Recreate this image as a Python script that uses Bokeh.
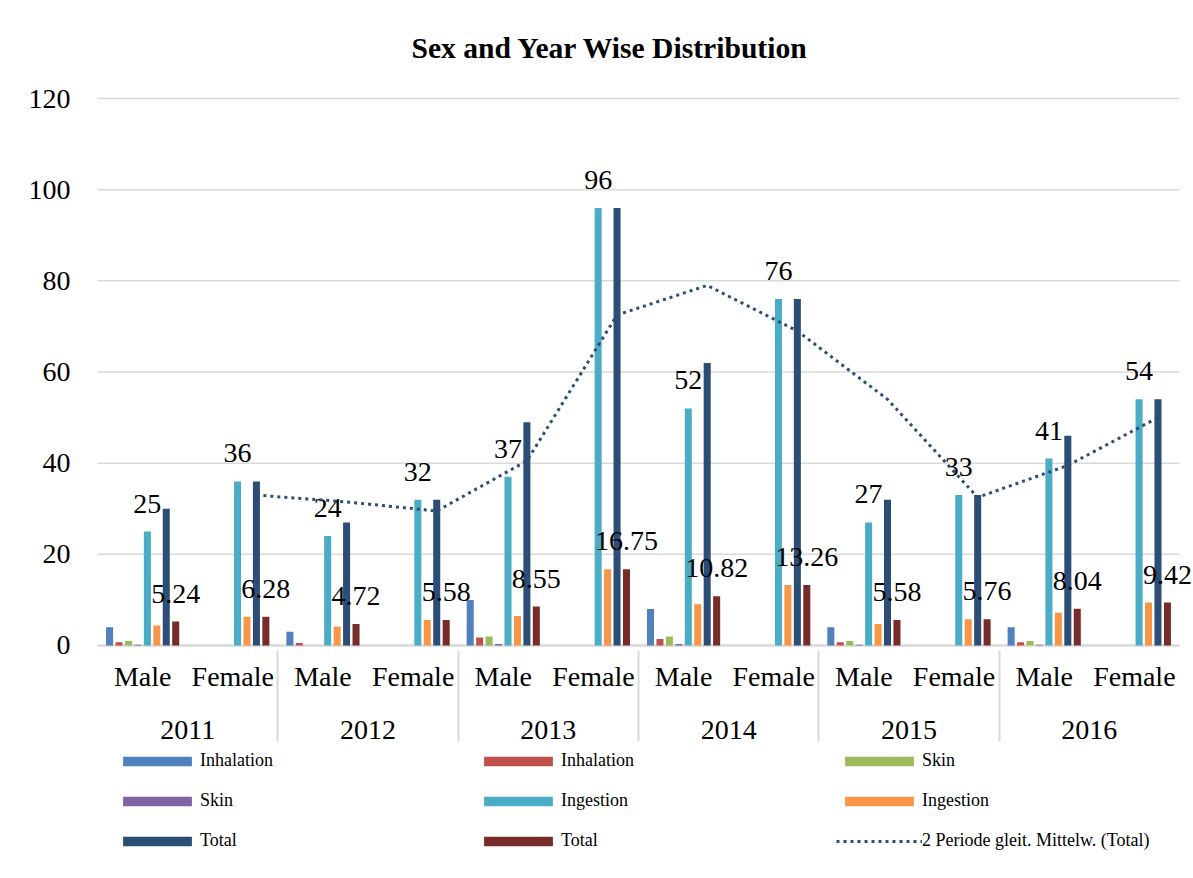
import pandas as pd
from bokeh.plotting import figure
from bokeh.layouts import column
from bokeh.models import (FactorRange, Range1d, FixedTicker, Legend, LegendItem,
                          ColumnDataSource)
from bokeh.transform import dodge
from bokeh.core.properties import value
from bokeh.embed import file_html
from bokeh.resources import INLINE

# ---------------- data ----------------
years = ["2011", "2012", "2013", "2014", "2015", "2016"]
sexes = ["Male", "Female"]

inhalation_n   = [4, 0, 3, 0, 10, 0, 8, 0, 4, 0, 4, 0]
inhalation_pct = [0.70, 0, 0.52, 0, 1.75, 0, 1.40, 0, 0.70, 0, 0.70, 0]
skin_n         = [1, 0, 0, 0, 2, 0, 2, 0, 1, 0, 1, 0]
skin_pct       = [0.17, 0, 0, 0, 0.35, 0, 0.35, 0, 0.17, 0, 0.17, 0]
ingestion_n    = [25, 36, 24, 32, 37, 96, 52, 76, 27, 33, 41, 54]
ingestion_pct  = [4.37, 6.28, 4.19, 5.58, 6.46, 16.75, 9.07, 13.26, 4.71, 5.76, 7.16, 9.42]
total_n        = [30, 36, 27, 32, 49, 96, 62, 76, 32, 33, 46, 54]
total_pct      = [5.24, 6.28, 4.72, 5.58, 8.55, 16.75, 10.82, 13.26, 5.58, 5.76, 8.04, 9.42]

series_names = ["Inhalation", "Inhalation", "Skin", "Skin",
                "Ingestion", "Ingestion", "Total", "Total"]
series_vals = [inhalation_n, inhalation_pct, skin_n, skin_pct,
               ingestion_n, ingestion_pct, total_n, total_pct]
colors = ["#4F81BD", "#C0504D", "#9BBB59", "#8064A2",
          "#4BACC6", "#F79646", "#2C4D75", "#772C2A"]
y_ticks = [0, 20, 40, 60, 80, 100, 120]
ma_label = "2 Periode gleit. Mittelw. (Total)"
title_text = "Sex and Year Wise Distribution"

FONT = "Liberation Serif"
GRID = "#D9D9D9"

# the leading line break only pushes the year row a little lower
factors = [("\n" + y, s) for y in years for s in sexes]

data = dict(x=factors)
for i, v in enumerate(series_vals):
    data[f"s{i}"] = v
    data[f"l{i}"] = [f"{val:g}" for val in v]
src = ColumnDataSource(data)

# padding (in category units) so that outer data labels are not cut at the frame edge
pad = 0.156
xr = FactorRange(*factors, group_padding=0, factor_padding=0, subgroup_padding=0,
                 range_padding=pad, range_padding_units="absolute")

p = figure(x_range=xr, y_range=Range1d(-0.44, 120.44),
           width=1193, height=749,
           output_backend="svg", toolbar_location=None,
           min_border_left=83, min_border_right=0,
           min_border_top=96, min_border_bottom=102,
           title=title_text)

p.title.align = "left"
p.title.vertical_align = "top"
p.title.offset = 328
p.title.standoff = 61
p.title.text_font = FONT
p.title.text_font_size = "29.6px"
p.title.text_font_style = "bold"
p.title.text_color = "black"

p.outline_line_color = None
p.xgrid.visible = False
p.ygrid.visible = False

p.yaxis.ticker = FixedTicker(ticks=y_ticks)
p.yaxis.axis_line_color = None
p.yaxis.major_tick_line_color = None
p.yaxis.minor_tick_line_color = None
p.yaxis.major_label_text_font = FONT
p.yaxis.major_label_text_font_size = "28px"
p.yaxis.major_label_text_color = "black"
p.yaxis.major_label_standoff = 7

xa = p.xaxis[0]
xa.axis_line_color = None
xa.major_tick_line_color = None
xa.major_tick_out = 0
xa.major_label_text_font = FONT
xa.major_label_text_font_size = "28px"
xa.major_label_text_color = "black"
xa.major_label_standoff = 13
xa.group_text_font = FONT
xa.group_text_font_size = "28px"
xa.group_text_font_style = "normal"
xa.group_text_color = "black"
xa.group_text_line_height = 0.2
xa.separator_line_color = GRID
xa.separator_line_width = 2

# horizontal gridlines spanning exactly the category area
grid_src = ColumnDataSource(dict(x0=[factors[0]] * len(y_ticks),
                                 x1=[factors[-1]] * len(y_ticks),
                                 y=y_ticks,
                                 w=[2.5 if t == 0 else 1.5 for t in y_ticks]))
p.segment(x0=dodge("x0", -0.5, range=xr), y0="y", x1=dodge("x1", 0.5, range=xr),
          y1="y", source=grid_src, line_color=GRID, line_width="w", level="underlay")

pitch = 0.1048
bw = 0.078
offsets = [(i - 3.5) * pitch for i in range(8)]

renderers = []
for i in range(8):
    r = p.vbar(x=dodge("x", offsets[i], range=xr), top=f"s{i}",
               width=bw, source=src, fill_color=colors[i], line_color=None)
    renderers.append(r)

for i in (4, 7):
    p.text(x=dodge("x", offsets[i], range=xr), y=f"s{i}", text=f"l{i}",
           source=src, text_font=value(FONT), text_font_size="28px",
           text_color="black", text_align="center", text_baseline="alphabetic",
           y_offset=-28)

# 2-period moving average of Total (count), anchored on the Total bars
ma = pd.Series(total_n, dtype=float).rolling(2).mean()
ma_src = ColumnDataSource(dict(x=factors[1:], y=list(ma[1:])))
p.line(x=dodge("x", offsets[6], range=xr), y="y", source=ma_src,
       line_color="#2C4D75", line_width=3, line_dash="3 4")

# ---------------- legend strip ----------------
p2 = figure(width=1193, height=129, x_range=Range1d(0, 1), y_range=Range1d(0, 1),
            output_backend="svg", toolbar_location=None,
            min_border=0, min_border_left=0, min_border_right=0,
            min_border_top=0, min_border_bottom=0)
p2.xaxis.visible = False
p2.yaxis.visible = False
p2.xgrid.visible = False
p2.ygrid.visible = False
p2.outline_line_color = None

# legend-only renderers (their single point lies outside the visible range)
leg_renderers = []
for i in range(8):
    leg_renderers.append(p2.vbar(x=[-5], top=[-5], width=0.1,
                                 fill_color=colors[i], line_color=None))
ma_leg = p2.line(x=[-5, -4], y=[-5, -5], line_color="#2C4D75", line_width=3,
                 line_dash="3 4")

items = [LegendItem(label=series_names[i], renderers=[leg_renderers[i]]) for i in range(8)]
items.append(LegendItem(label=ma_label, renderers=[ma_leg]))

legend = Legend(items=items, location=(31, 27), orientation="horizontal", ncols=3,
                glyph_width=86, glyph_height=12, label_standoff=0,
                label_width=256, label_height=20, spacing=19,
                padding=0, margin=0, border_line_color=None,
                background_fill_alpha=0,
                label_text_font=FONT, label_text_font_size="18px",
                label_text_color="black")
p2.add_layout(legend)

layout = column(p, p2, spacing=0)
open("out.html", "w").write(file_html(layout, INLINE))
